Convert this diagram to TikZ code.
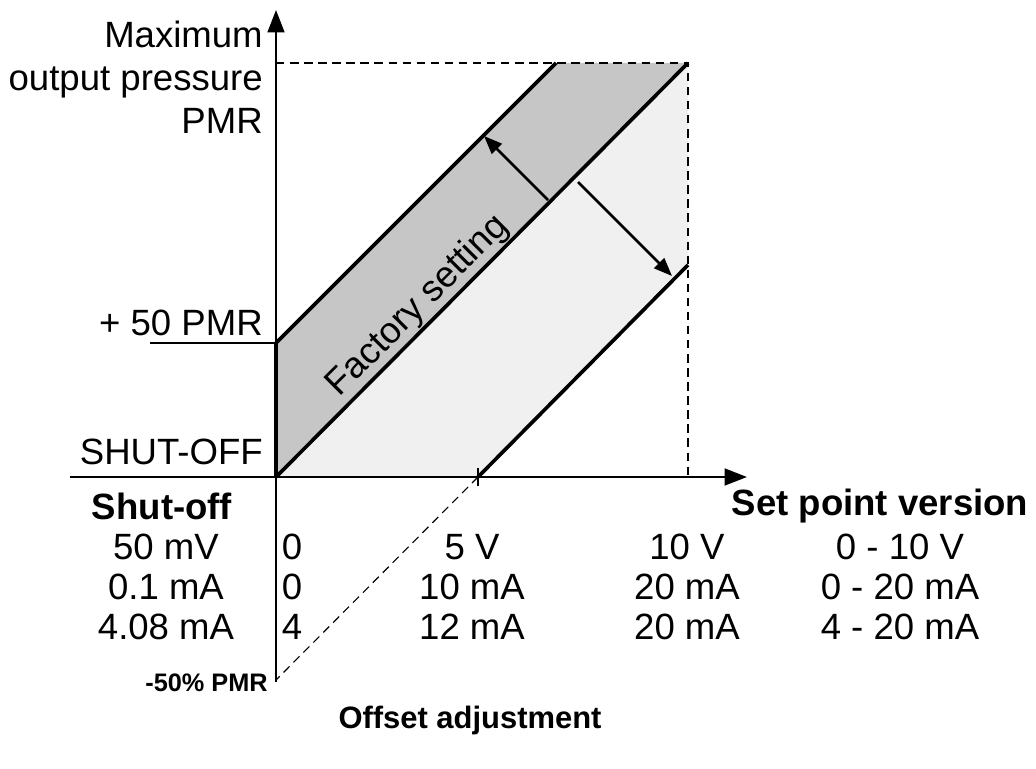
\documentclass[tikz,border=0pt]{standalone}
\usepackage{fontspec}
\setmainfont{Liberation Sans}
\usetikzlibrary{arrows.meta,positioning}
\begin{document}
\begin{tikzpicture}[x=0.025cm,y=-0.025cm,
    axis/.style={line width=1.6pt},
    band/.style={line width=2.6pt},
    guide/.style={dash pattern=on 6pt off 4pt, line width=0.8pt},
    lbl/.style={font=\fontsize{26}{30.5}\selectfont, inner sep=0pt},
    head/.style={font=\fontsize{26}{30.5}\selectfont\bfseries, inner sep=0pt}
]
\useasboundingbox (0,0) rectangle (1036,768);

% Points
\coordinate (O) at (276,477);
\coordinate (ytop) at (276,10);
\coordinate (ybot) at (276,682);
\coordinate (xl) at (70,477);
\coordinate (xr) at (747,477);
\coordinate (p50) at (276,343);
\coordinate (p50l) at (150,343);
\coordinate (up) at (556,63);
\coordinate (mx) at (688,63);
\coordinate (mx0) at (276,63);
\coordinate (mxb) at (688,477);
\coordinate (lo) at (478,477);
\coordinate (loe) at (688,265);
\coordinate (neg) at (276,680);

% Bands
\fill[gray!45] (p50) -- (up) -- (mx) -- (O) -- cycle;
\fill[gray!12] (O) -- (mx) -- (loe) -- (lo) -- cycle;

% Guides
\draw[guide] (mx0) -- (mx) -- (mxb);
\draw[guide] (lo) -- (neg);

% Axes
\draw[axis, -{Triangle[length=16pt,width=12pt]}] (ybot) -- (ytop);
\draw[axis, -{Triangle[length=16pt,width=12pt]}] (xl) -- (xr);
\draw[axis] (p50l) -- (p50);
\draw[axis] (lo) ++(0,-9) -- ++(0,18);

% Lines
\draw[band] (p50) -- (up);
\draw[band] (O) -- (mx);
\draw[band] (lo) -- (loe);
\draw[band] (O) -- (p50);

% Arrows
\coordinate (a1s) at (548,200);
\coordinate (a1e) at (484,136);
\coordinate (a2s) at (578,182);
\coordinate (a2e) at (672,276);
\draw[line width=1.8pt, -{Triangle[length=13pt,width=10pt]}] (a1s) -- (a1e);
\draw[line width=1.8pt, -{Triangle[length=13pt,width=10pt]}] (a2s) -- (a2e);

\node[lbl, rotate=45] (factory) at (418,306) {Factory setting};

% Axis labels
\node[lbl, align=right, anchor=north east] (maxp) at (263,21) {Maximum\\output pressure\\PMR};
\node[lbl, anchor=east] (plus50) at (263,323) {+ 50 PMR};
\node[lbl, anchor=east] (shut) at (263,452) {SHUT-OFF};
\node[head] (shuthead) at (162,506) {Shut-off};
\node[head] (sethead) at (880,506) {Set point version};
\node[font=\fontsize{18}{21}\selectfont\bfseries, inner sep=0pt, anchor=east] (neglbl) at (268,683) {-50\% PMR};
\node[font=\fontsize{22}{26}\selectfont\bfseries, inner sep=0pt] (offset) at (470,720) {Offset adjustment};

% Table
\foreach \a/\b/\c/\d/\e [count=\i] in {50 mV/0/5 V/10 V/0 - 10 V, 0.1 mA/0/10 mA/20 mA/0 - 20 mA, 4.08 mA/4/12 mA/20 mA/4 - 20 mA}{
  \node[lbl] (c1r\i) at (166,507+40*\i) {\a};
  \node[lbl] (c2r\i) at (292,507+40*\i) {\b};
  \node[lbl] (c3r\i) at (472,507+40*\i) {\c};
  \node[lbl] (c4r\i) at (687,507+40*\i) {\d};
  \node[lbl] (c5r\i) at (900,507+40*\i) {\e};
}
\end{tikzpicture}
\end{document}
